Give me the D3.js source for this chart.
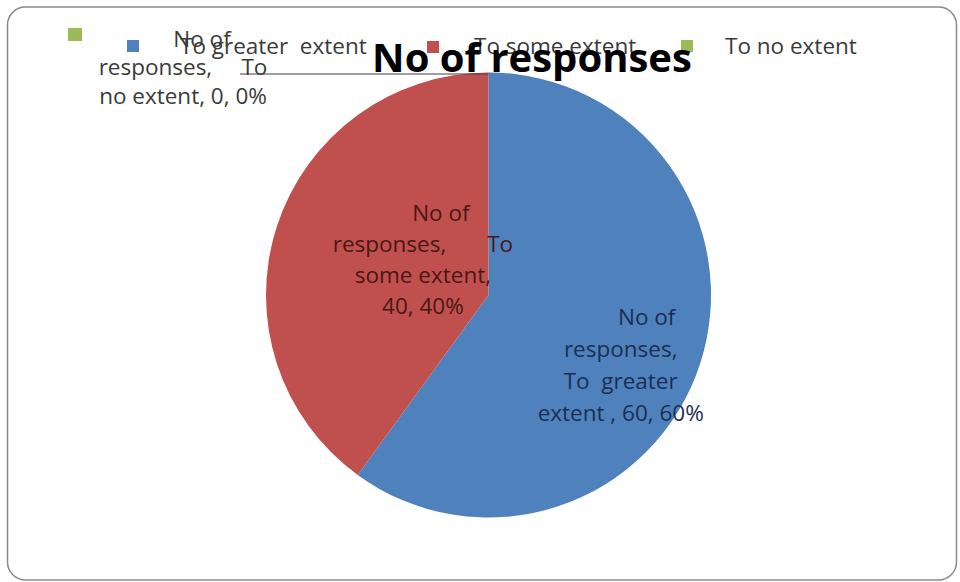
<!DOCTYPE html>
<html>
<head>
<meta charset="utf-8">
<script src="https://cdn.jsdelivr.net/npm/d3@7"></script>
<style>
  html, body { margin: 0; padding: 0; background: #fff; }
  svg text { white-space: pre; }
</style>
</head>
<body>
<svg id="chart" width="960" height="582"></svg>
<script>
// ---- data ----
const titleText = "No of responses";
const seriesName = "No of responses";
const categories = ["To greater  extent", "To some extent", "To no extent"];
const values = [60, 40, 0];
const colors = ["#4F81BD", "#C0504D", "#9BBB59"];

const total = d3.sum(values);
const pct = values.map(v => Math.round(v / total * 100));
// data label texts as wrapped in the picture
const labelLines = [
  ["No of", "responses,", "To  greater", `extent , ${values[0]}, ${pct[0]}%`],
  ["No of", "responses,       To", "some extent,", `${values[1]}, ${pct[1]}%`],
  ["No of", "responses,     To", `no extent, ${values[2]}, ${pct[2]}%`]
];

// ---- layout ----
const W = 960, H = 582;
const cx = 488.5, cy = 295, R = 222.5;
const font = "'Open Sans', 'Liberation Sans', sans-serif";
const fs = 22.5;

const svg = d3.select("#chart");
svg.append("rect").attr("width", W).attr("height", H).attr("fill", "#fff");
svg.append("rect")
  .attr("x", 7.5).attr("y", 7).attr("width", 949).attr("height", 573)
  .attr("rx", 18).attr("ry", 18)
  .attr("fill", "#fff").attr("stroke", "#8a8a8a").attr("stroke-width", 1.5);

// legend
const legendLayout = [
  { sx: 127, sy: 40, tx: 180 },
  { sx: 427, sy: 41, tx: 474 },
  { sx: 681, sy: 40, tx: 725 }
];
const lg = svg.append("g");
categories.forEach((c, i) => {
  const L = legendLayout[i];
  lg.append("rect").attr("x", L.sx).attr("y", L.sy).attr("width", 12).attr("height", 12)
    .attr("fill", colors[i]);
  lg.append("text").attr("x", L.tx).attr("y", 54)
    .attr("font-family", font).attr("font-size", fs).attr("fill", "#3a3a3a")
    .text(c);
});

// pie
const pie = d3.pie().sort(null).startAngle(0).endAngle(2 * Math.PI);
const arcs = pie(values);
const arc = d3.arc().innerRadius(0).outerRadius(R);
const g = svg.append("g").attr("transform", `translate(${cx},${cy})`);
g.selectAll("path").data(arcs).enter().append("path")
  .attr("d", arc).attr("fill", (d, i) => colors[i]);

// inside labels
const inside = [
  { r: 139, dy: 35, lh: 32, shift0: 26, color: "#1b2f52" },
  { r: 69, dy: -6, lh: 31, shift0: 18, color: "#4a1717" }
];
inside.forEach((L, i) => {
  const [x, y] = d3.arc().innerRadius(L.r).outerRadius(L.r).centroid(arcs[i]);
  const lines = labelLines[i];
  const n = lines.length;
  const t = g.append("text").attr("font-family", font).attr("font-size", fs)
    .attr("fill", L.color).attr("text-anchor", "middle");
  lines.forEach((s, k) => {
    t.append("tspan")
      .attr("x", x + (k === 0 ? L.shift0 : 0))
      .attr("y", y + L.dy + (k - (n - 1) / 2) * L.lh)
      .text(s);
  });
});

// zero-slice label with leader line and legend key
const zeroIdx = 2;
const topPt = [cx + R * Math.sin(arcs[zeroIdx].startAngle), cy - R * Math.cos(arcs[zeroIdx].startAngle)];
svg.append("line")
  .attr("x1", 240).attr("y1", 74).attr("x2", topPt[0]).attr("y2", 74)
  .attr("stroke", "#404040").attr("stroke-width", 1);
svg.append("rect").attr("x", 68).attr("y", 28).attr("width", 14).attr("height", 13)
  .attr("fill", colors[zeroIdx]);
const zt = svg.append("text").attr("font-family", font).attr("font-size", fs)
  .attr("fill", "#3a3a3a").attr("text-anchor", "middle");
const zy = [47, 75, 104];
labelLines[zeroIdx].forEach((s, k) => {
  zt.append("tspan").attr("x", 183 + (k === 0 ? 19 : 0)).attr("y", zy[k]).text(s);
});

// title
svg.append("text")
  .attr("x", 532).attr("y", 72)
  .attr("text-anchor", "middle")
  .attr("font-family", font).attr("font-weight", "bold").attr("font-size", 40)
  .attr("fill", "#000")
  .text(titleText);
</script>
</body>
</html>
